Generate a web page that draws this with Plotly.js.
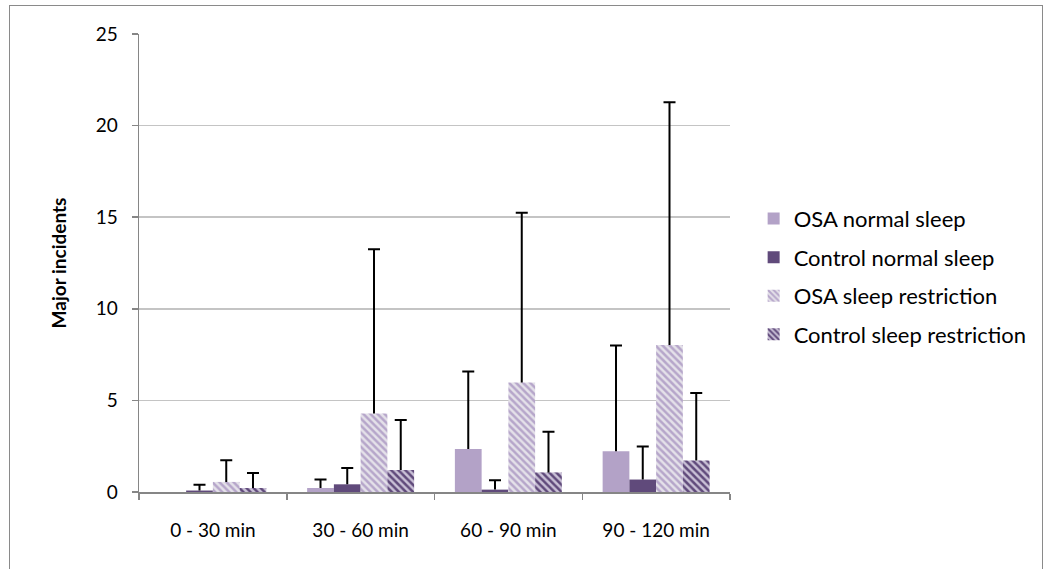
<!DOCTYPE html>
<html>
<head>
<meta charset="utf-8">
<script src="https://cdn.plot.ly/plotly-3.0.1.min.js"></script>
<style>
  html, body { margin: 0; padding: 0; background: #fff; }
  #wrap { position: relative; width: 1051px; height: 569px; overflow: hidden; }
  #chart { width: 1051px; height: 569px; }
  #frame { position: absolute; left: 9px; top: 5px; width: 1034px; height: 600px;
           border: 1.5px solid #8a8a8a; pointer-events: none; box-sizing: border-box; }
</style>
</head>
<body>
<div id="wrap">
  <div id="chart"></div>
  <div id="frame"></div>
</div>
<script>
const categories = ['0 - 30 min', '30 - 60 min', '60 - 90 min', '90 - 120 min'];

const osaNormal = [0, 0.22, 2.35, 2.22];
const osaNormalErr = [0, 0.46, 4.23, 5.78];

const controlNormal = [0.08, 0.42, 0.13, 0.68];
const controlNormalErr = [0.31, 0.89, 0.51, 1.80];

const osaRestriction = [0.55, 4.29, 5.98, 8.02];
const osaRestrictionErr = [1.18, 8.96, 9.26, 13.26];

const controlRestriction = [0.22, 1.20, 1.07, 1.72];
const controlRestrictionErr = [0.82, 2.73, 2.22, 3.68];

const seriesNames = ['OSA normal sleep', 'Control normal sleep', 'OSA sleep restriction', 'Control sleep restriction'];
const yTicks = [0, 5, 10, 15, 20, 25];

const FONT = 'Lato, "Open Sans", sans-serif';

// upward-only error bars; a zero error draws nothing
function errBar(arr) {
  return {
    type: 'data', symmetric: false,
    array: arr.map(v => (v > 0 ? v : NaN)),
    arrayminus: arr.map(v => (v > 0 ? 0 : NaN)),
    color: '#000000', thickness: 2, width: 6
  };
}

const traces = [
  {
    type: 'bar', name: seriesNames[0], x: categories, y: osaNormal,
    marker: { color: '#B3A2C7', line: { width: 0 } },
    error_y: errBar(osaNormalErr), legendgroup: 'a'
  },
  {
    type: 'bar', name: seriesNames[1], x: categories, y: controlNormal,
    marker: { color: '#604A7B', line: { width: 0 } },
    error_y: errBar(controlNormalErr), legendgroup: 'b'
  },
  {
    type: 'bar', name: seriesNames[2], x: categories, y: osaRestriction,
    marker: { color: '#D5CEDF', line: { width: 0 },
      pattern: { shape: '\\', fgcolor: '#B6A6CA', bgcolor: '#E4E1E9', size: 5, solidity: 0.5, fillmode: 'replace' } },
    error_y: errBar(osaRestrictionErr), legendgroup: 'c'
  },
  {
    type: 'bar', name: seriesNames[3], x: categories, y: controlRestriction,
    marker: { color: '#9A8BAE', line: { width: 0 },
      pattern: { shape: '\\', fgcolor: '#604A7B', bgcolor: '#C9C0D6', size: 5, solidity: 0.5, fillmode: 'replace' } },
    error_y: errBar(controlRestrictionErr), legendgroup: 'd'
  }
];

const layout = {
  width: 1051, height: 569,
  margin: { l: 139, r: 321, t: 34, b: 77 },
  paper_bgcolor: '#ffffff', plot_bgcolor: '#ffffff',
  font: { family: FONT, size: 18, color: '#000000' },
  barmode: 'group', bargap: 0.276, bargroupgap: 0,
  showlegend: true,
  legend: {
    x: 1.04, xanchor: 'left', y: 0.47, yanchor: 'middle',
    font: { family: FONT, size: 22, color: '#000' },
    tracegroupgap: 7, bgcolor: 'rgba(0,0,0,0)', itemwidth: 30
  },
  xaxis: {
    type: 'category', showgrid: false, zeroline: false,
    showline: true, linecolor: '#868686', linewidth: 2,
    ticks: 'outside', tickson: 'boundaries', ticklen: 6, tickcolor: '#868686', tickwidth: 1.5,
    tickfont: { family: FONT, size: 19, color: '#000' },
    ticklabelstandoff: 20
  },
  yaxis: {
    range: [0, 25], tickvals: yTicks, ticktext: yTicks.map(String),
    showgrid: true, gridcolor: '#C4C4C4', gridwidth: 1.5,
    zeroline: false, showline: true, linecolor: '#868686', linewidth: 1.5,
    ticks: 'outside', ticklen: 6, tickcolor: '#868686', tickwidth: 1.5,
    tickfont: { family: FONT, size: 19, color: '#000' },
    ticklabelstandoff: 10,
    title: { text: '<b>Major incidents</b>', font: { family: FONT, size: 19, color: '#000' }, standoff: 24 }
  }
};

Plotly.newPlot('chart', traces, layout, { displayModeBar: false, staticPlot: true }).then(gd => {
  // Excel-style error bars: drop the cap that Plotly draws at the bar top
  gd.querySelectorAll('path.yerror').forEach(p => {
    const d = p.getAttribute('d');
    if (d) p.setAttribute('d', d.replace(/m-[\d.]+,0h[\d.]+$/, ''));
  });
});
</script>
</body>
</html>
